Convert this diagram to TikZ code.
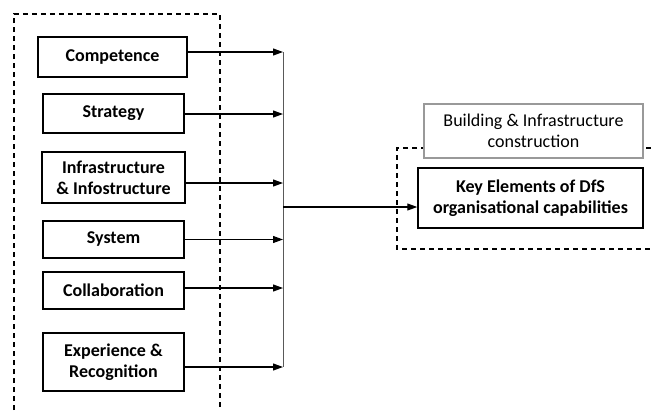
\documentclass[tikz,border=0pt]{standalone}
\usepackage{fontspec}
\setmainfont{Carlito}
\usetikzlibrary{arrows.meta}
\begin{document}
\begin{tikzpicture}[x=1pt,y=-1pt,
  box/.style={draw, line width=1.5pt, inner sep=0pt, align=center,
    font=\fontsize{18}{21}\selectfont\bfseries},
  graybox/.style={draw=gray!80, line width=1.3pt, fill=white, inner sep=0pt, align=center,
    font=\fontsize{18}{21}\selectfont},
  frame/.style={line width=1.2pt, dash pattern=on 5pt off 4pt},
  arr/.style={line width=1.1pt, -{Triangle[length=10pt,width=7pt]}}]
\useasboundingbox (0,0) rectangle (651,410);
\fill[white] (0,0) rectangle (651,410);
% left dashed frame
\draw[frame] (14,410) -- (14,14) -- (220,14) -- (220,410);
% right dashed frame
\draw[frame] (651,148) -- (397,148) -- (397,249) -- (651,249);
% boxes
\node[box, minimum width=149pt, minimum height=40pt] (comp) at (112.5,57) {Competence};
\node[box, minimum width=141pt, minimum height=39pt] (strat) at (113.5,113.5) {Strategy};
\node[box, minimum width=143pt, minimum height=51pt] (infra) at (113.5,177.5) {Infrastructure\\\& Infostructure};
\node[box, minimum width=141pt, minimum height=37pt] (sys) at (113.5,239.5) {System};
\node[box, minimum width=141pt, minimum height=37pt] (coll) at (113.5,290.5) {Collaboration};
\node[box, minimum width=141pt, minimum height=58pt] (exp) at (113.5,362) {Experience \&\\Recognition};
\node[graybox, minimum width=219pt, minimum height=54pt] (build) at (533.5,131) {Building \& Infrastructure\\construction};
\node[box, minimum width=225pt, minimum height=60pt] (key) at (530.5,198) {Key Elements of DfS\\organisational capabilities};
% bus
\coordinate (top) at (283,52);
\coordinate (bot) at (283,367);
\coordinate (mid) at (283,207);
\draw[line width=1pt, gray!70!black] (top) -- (bot);
\draw[arr] ([yshift=5pt]comp.east) -- ([yshift=5pt]comp.east -| top);
\draw[arr] ([yshift=-0.5pt]strat.east) -- ([yshift=-0.5pt]strat.east -| top);
\draw[arr] ([yshift=-5.5pt]infra.east) -- ([yshift=-5.5pt]infra.east -| top);
\draw[arr] (sys.east) -- (sys.east -| top);
\draw[arr] ([yshift=2.5pt]coll.east) -- ([yshift=2.5pt]coll.east -| top);
\draw[arr] ([yshift=-5pt]exp.east) -- ([yshift=-5pt]exp.east -| top);
\draw[arr] (mid) -- (mid -| key.west);
\end{tikzpicture}
\end{document}
